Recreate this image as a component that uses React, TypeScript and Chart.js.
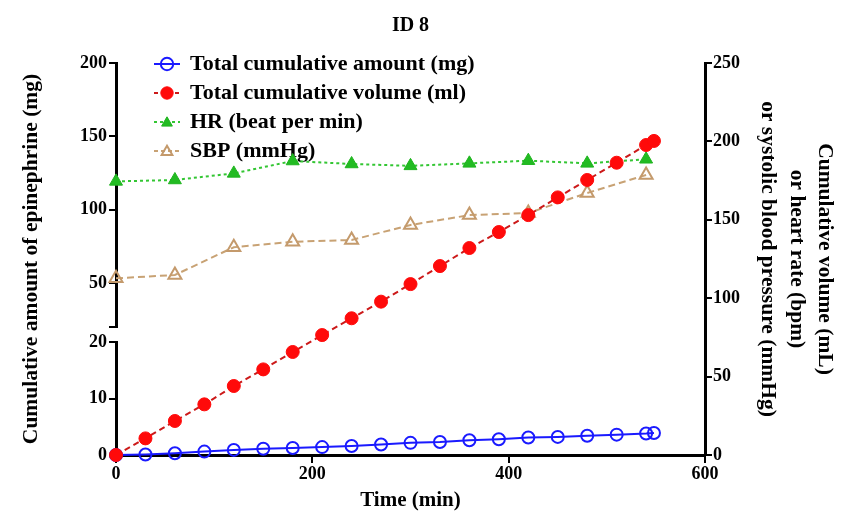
import React, { useEffect, useRef } from 'react';
import { Chart, registerables } from 'chart.js';

Chart.register(...registerables);

// ---- data ----
const doseTimes = [0, 30, 60, 90, 120, 150, 180, 210, 240, 270, 300, 330, 360, 390, 420, 450, 480, 510, 540, 548];
const amountValues = [0, 0.1, 0.3, 0.6, 0.9, 1.1, 1.25, 1.4, 1.6, 1.85, 2.15, 2.3, 2.6, 2.8, 3.1, 3.2, 3.4, 3.6, 3.8, 3.9];
const volumeValues = [0, 10.6, 21.7, 32.3, 44, 54.6, 65.7, 76.5, 87.2, 97.8, 109, 120.5, 132, 142.2, 153, 164.3, 175.4, 186.4, 197.7, 200.3];
const vitalTimes = [0, 60, 120, 180, 240, 300, 360, 420, 480, 540];
const hrValues = [174.5, 175.4, 179.6, 187.5, 185.6, 184.4, 186, 187.7, 186, 188.6];
const sbpValues = [112.7, 114.8, 132.5, 136, 137.1, 146.7, 153, 154.3, 167.1, 178.6];

const xTicks = [0, 200, 400, 600];
const lowTicks = [0, 10, 20];
const highTicks = [20, 50, 100, 150, 200];
const rightTicks = [0, 50, 100, 150, 200, 250];

const seriesLabels = [
  'Total cumulative amount (mg)',
  'Total cumulative volume (ml)',
  'HR (beat per min)',
  'SBP (mmHg)',
];

const SERIF = "'Liberation Serif', 'Times New Roman', serif";

type IconSpec = {
  line: string;
  dash: number[];
  shape: 'circle' | 'triangle';
  fill: string;
  stroke: string;
  lw: number;
};

function makeLegendIcon(spec: IconSpec): HTMLCanvasElement {
  const c = document.createElement('canvas');
  c.width = 26;
  c.height = 18;
  const g = c.getContext('2d')!;
  const cx = c.width / 2;
  const cy = c.height / 2;
  g.strokeStyle = spec.line;
  g.lineWidth = 2;
  g.setLineDash(spec.dash);
  g.beginPath();
  g.moveTo(0, cy);
  g.lineTo(c.width, cy);
  g.stroke();
  g.setLineDash([]);
  g.beginPath();
  const r = 6.2;
  if (spec.shape === 'circle') {
    g.arc(cx, cy, r, 0, Math.PI * 2);
  } else {
    for (let k = 0; k < 3; k++) {
      const a = (k * 2 * Math.PI) / 3;
      const px = cx + Math.sin(a) * r;
      const py = cy + 1 - Math.cos(a) * r;
      if (k === 0) g.moveTo(px, py);
      else g.lineTo(px, py);
    }
    g.closePath();
  }
  g.fillStyle = spec.fill;
  g.fill();
  g.strokeStyle = spec.stroke;
  g.lineWidth = spec.lw;
  g.stroke();
  return c;
}

export default function App() {
  const ref = useRef<HTMLCanvasElement | null>(null);

  useEffect(() => {
    document.body.style.margin = '0';
    const canvas = ref.current;
    if (!canvas) return;

    const pts = (xs: number[], ys: number[]) => xs.map((x, i) => ({ x, y: ys[i] }));
    const tickFont = { family: SERIF, size: 18, weight: 'bold' as const };
    const tickGrid = {
      display: true,
      drawOnChartArea: false,
      drawTicks: true,
      tickLength: 7,
      color: '#000',
      lineWidth: 2,
    };
    const axisBorder = { display: true, color: '#000', width: 3 };
    const setTicks = (vals: number[]) => (scale: any) => {
      scale.ticks = vals.map((v) => ({ value: v }));
    };
    const LEFT_W = 71.2;

    const icons = [
      makeLegendIcon({ line: '#1a1aff', dash: [], shape: 'circle', fill: 'rgba(255,255,255,0)', stroke: '#1a1aff', lw: 2 }),
      makeLegendIcon({ line: '#cc1a1a', dash: [4, 3], shape: 'circle', fill: '#ff0a0a', stroke: '#ff0a0a', lw: 1 }),
      makeLegendIcon({ line: '#33c633', dash: [3, 3], shape: 'triangle', fill: '#22bb22', stroke: '#1fb41f', lw: 1 }),
      makeLegendIcon({ line: '#c8a274', dash: [4, 3], shape: 'triangle', fill: 'rgba(255,255,255,0)', stroke: '#c49a6c', lw: 2 }),
    ];

    const legendMover = {
      id: 'legendMover',
      afterLayout(chart: any) {
        const lg = chart.legend;
        const ca = chart.chartArea;
        if (!lg || !ca) return;
        lg.left = ca.left + 32;
        lg.top = ca.top - 17;
        lg.right = ca.right;
        lg.bottom = ca.bottom;
      },
    };

    const chart = new Chart(canvas, {
      type: 'line',
      data: {
        datasets: [
          {
            label: seriesLabels[0],
            data: pts(doseTimes, amountValues),
            xAxisID: 'x',
            yAxisID: 'yLow',
            order: 1,
            borderColor: '#1a1aff',
            borderWidth: 2,
            pointStyle: 'circle',
            pointRadius: 6,
            pointBorderWidth: 2,
            pointBorderColor: '#1a1aff',
            pointBackgroundColor: 'rgba(255,255,255,0)',
            tension: 0,
            clip: false as any,
          },
          {
            label: seriesLabels[1],
            data: pts(doseTimes, volumeValues),
            xAxisID: 'x',
            yAxisID: 'y2',
            order: 0,
            borderColor: '#cc1a1a',
            borderWidth: 2,
            borderDash: [6, 4],
            pointStyle: 'circle',
            pointRadius: 6.5,
            pointBorderWidth: 1,
            pointBorderColor: '#ff0a0a',
            pointBackgroundColor: '#ff0a0a',
            tension: 0,
            clip: false as any,
          },
          {
            label: seriesLabels[2],
            data: pts(vitalTimes, hrValues),
            xAxisID: 'x',
            yAxisID: 'y2',
            order: 2,
            borderColor: '#33c633',
            borderWidth: 2,
            borderDash: [3, 3],
            pointStyle: 'triangle',
            pointRadius: 7.5,
            pointBorderWidth: 1,
            pointBorderColor: '#1fb41f',
            pointBackgroundColor: '#22bb22',
            tension: 0,
            clip: false as any,
          },
          {
            label: seriesLabels[3],
            data: pts(vitalTimes, sbpValues),
            xAxisID: 'x',
            yAxisID: 'y2',
            order: 3,
            borderColor: '#c8a274',
            borderWidth: 2,
            borderDash: [7, 4],
            pointStyle: 'triangle',
            pointRadius: 7.5,
            pointBorderWidth: 2,
            pointBorderColor: '#c49a6c',
            pointBackgroundColor: 'rgba(255,255,255,0)',
            tension: 0,
            clip: false as any,
          },
        ],
      },
      options: {
        animation: false,
        responsive: true,
        maintainAspectRatio: false,
        devicePixelRatio: 1,
        events: [],
        layout: { padding: { left: 19, right: 10, top: 0, bottom: 0 } },
        plugins: {
          title: {
            display: true,
            text: 'ID 8',
            fullSize: false,
            color: '#000',
            font: { family: SERIF, size: 20, weight: 'bold' },
            padding: { top: 14, bottom: 25 },
          },
          subtitle: {
            display: true,
            position: 'left',
            fullSize: false,
            text: 'Cumulative amount of epinephrine (mg)',
            color: '#000',
            font: { family: SERIF, size: 21.5, weight: 'bold', lineHeight: 1.2 },
            padding: 0,
          },
          legend: {
            display: true,
            position: 'chartArea',
            align: 'start',
            labels: {
              usePointStyle: true,
              pointStyleWidth: 24,
              boxWidth: 24,
              boxHeight: 9,
              padding: 7,
              color: '#000',
              font: { family: SERIF, size: 22, weight: 'bold' },
              sort: (a: any, b: any) => a.datasetIndex - b.datasetIndex,
              generateLabels: (ch: any) => {
                const base = (Chart.defaults.plugins.legend.labels as any).generateLabels(ch);
                return base.map((it: any) => ({ ...it, pointStyle: icons[it.datasetIndex] }));
              },
            },
          },
          tooltip: { enabled: false },
        },
        scales: {
          x: {
            type: 'linear',
            position: 'bottom',
            min: 0,
            max: 600,
            afterBuildTicks: setTicks(xTicks),
            ticks: { font: tickFont, color: '#000', padding: 1, maxRotation: 0, autoSkip: false },
            grid: { ...tickGrid, tickLength: 8 },
            border: axisBorder,
            title: {
              display: true,
              text: 'Time (min)',
              color: '#000',
              font: { family: SERIF, size: 21, weight: 'bold' },
              padding: { top: 0, bottom: 15 },
            },
            afterFit: (s: any) => {
              s.height = 73;
            },
          },
          yLow: {
            type: 'linear',
            position: 'left',
            stack: 'left',
            stackWeight: 113,
            min: 0,
            max: 20,
            afterBuildTicks: setTicks(lowTicks),
            ticks: { font: tickFont, color: '#000', padding: 2, autoSkip: false },
            grid: tickGrid,
            border: axisBorder,
            afterFit: (s: any) => {
              s.width = LEFT_W;
            },
          },
          yGap: {
            type: 'linear',
            position: 'left',
            stack: 'left',
            stackWeight: 15,
            min: 0,
            max: 1,
            ticks: { display: false },
            grid: { display: false },
            border: { display: false },
            afterFit: (s: any) => {
              s.width = LEFT_W;
            },
          },
          yHigh: {
            type: 'linear',
            position: 'left',
            stack: 'left',
            stackWeight: 264,
            min: 20,
            max: 200,
            afterBuildTicks: setTicks(highTicks),
            ticks: {
              font: tickFont,
              color: '#000',
              padding: 2,
              autoSkip: false,
              callback: (v: any) => (Number(v) === 20 ? '' : String(v)),
            },
            grid: tickGrid,
            border: axisBorder,
            afterFit: (s: any) => {
              s.width = LEFT_W;
            },
          },
          y2: {
            type: 'linear',
            position: 'right',
            min: 0,
            max: 250,
            afterBuildTicks: setTicks(rightTicks),
            ticks: { font: tickFont, color: '#000', padding: 1, autoSkip: false },
            grid: tickGrid,
            border: axisBorder,
            title: {
              display: true,
              text: ['Cumulative volume (mL)', 'or heart rate (bpm)', 'or systolic blood pressure (mmHg)'],
              color: '#000',
              font: { family: SERIF, size: 21.5, weight: 'bold', lineHeight: 1.33 },
              padding: { top: 6, bottom: 0 },
            },
            afterFit: (s: any) => {
              s.width = 140;
            },
          },
        } as any,
      },
      plugins: [legendMover],
    } as any);

    return () => chart.destroy();
  }, []);

  return (
    <div style={{ position: 'absolute', left: 0, top: 0, width: 855, height: 528 }}>
      <canvas ref={ref} />
    </div>
  );
}
